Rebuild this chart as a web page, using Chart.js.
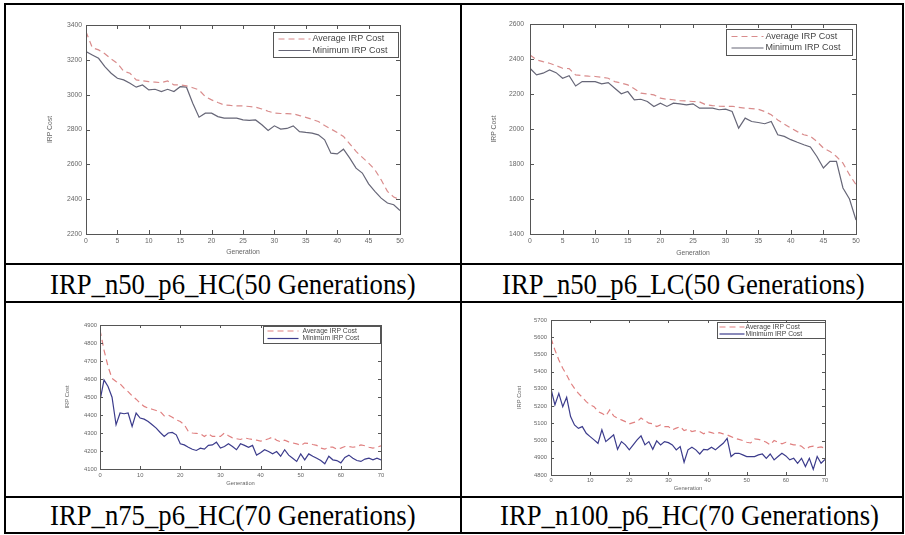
<!DOCTYPE html>
<html><head><meta charset="utf-8">
<script src="https://cdn.jsdelivr.net/npm/chart.js@4.4.1/dist/chart.umd.min.js"></script>
<style>
html,body{margin:0;padding:0;background:#fff;}
#wrap{position:relative;width:905px;height:535px;overflow:hidden;background:#fff;}
.ln{position:absolute;background:#000;}
.cv{position:absolute;}
.cap{position:absolute;font-family:"Liberation Serif","Times New Roman",serif;font-size:30px;color:#000;white-space:nowrap;line-height:1;transform:scaleX(0.89);transform-origin:0 0;}
</style></head>
<body><div id="wrap">
<div class="cv" style="left:7px;top:6px;width:452px;height:257px"><canvas id="c1"></canvas></div>
<div class="cv" style="left:463px;top:6px;width:439px;height:257px"><canvas id="c2"></canvas></div>
<div class="cv" style="left:7px;top:304px;width:452px;height:191px"><canvas id="c3"></canvas></div>
<div class="cv" style="left:463px;top:304px;width:439px;height:191px"><canvas id="c4"></canvas></div>
<div class="cap" id="t1" style="left:50px;top:269px"></div>
<div class="cap" id="t2" style="left:502px;top:269px"></div>
<div class="cap" id="t3" style="left:50px;top:500px"></div>
<div class="cap" id="t4" style="left:500px;top:500px"></div>
<div class="ln" style="left:4px;top:3px;width:900px;height:2px"></div>
<div class="ln" style="left:4px;top:532px;width:900px;height:2px"></div>
<div class="ln" style="left:4px;top:3px;width:2px;height:531px"></div>
<div class="ln" style="left:902px;top:3px;width:2px;height:531px"></div>
<div class="ln" style="left:460px;top:3px;width:2px;height:531px"></div>
<div class="ln" style="left:4px;top:263px;width:900px;height:2px"></div>
<div class="ln" style="left:4px;top:301px;width:900px;height:2px"></div>
<div class="ln" style="left:4px;top:496px;width:900px;height:2px"></div>
</div>
<script>
// ---------------- DATA ----------------
const captions = ["IRP_n50_p6_HC(50 Generations)","IRP_n50_p6_LC(50 Generations)","IRP_n75_p6_HC(70 Generations)","IRP_n100_p6_HC(70 Generations)"];
const seriesNames = ["Average IRP Cost","Minimum IRP Cost"];
const xTitle = "Generation";
const yTitle = "IRP Cost";

const gens50 = [0,1,2,3,4,5,6,7,8,9,10,11,12,13,14,15,16,17,18,19,20,21,22,23,24,25,26,27,28,29,30,31,32,33,34,35,36,37,38,39,40,41,42,43,44,45,46,47,48,49,50];
const gens70 = [0,1,2,3,4,5,6,7,8,9,10,11,12,13,14,15,16,17,18,19,20,21,22,23,24,25,26,27,28,29,30,31,32,33,34,35,36,37,38,39,40,41,42,43,44,45,46,47,48,49,50,51,52,53,54,55,56,57,58,59,60,61,62,63,64,65,66,67,68,69,70];

const xTicks50 = [0,5,10,15,20,25,30,35,40,45,50];
const xTicks70 = [0,10,20,30,40,50,60,70];
const yTicks1 = [2200,2400,2600,2800,3000,3200,3400];
const yTicks2 = [1400,1600,1800,2000,2200,2400,2600];
const yTicks3 = [4100,4200,4300,4400,4500,4600,4700,4800,4900];
const yTicks4 = [4800,4900,5000,5100,5200,5300,5400,5500,5600,5700];

const avg1 = [3362,3270,3257,3235,3205,3180,3135,3123,3085,3080,3075,3072,3069,3079,3056,3056,3050,3040,3027,2989,2970,2955,2941,2938,2936,2935,2932,2928,2918,2905,2894,2892,2891,2890,2880,2870,2858,2846,2823,2803,2783,2760,2718,2674,2640,2607,2569,2511,2445,2412,2397];
const min1 = [3247,3228,3209,3161,3123,3094,3085,3066,3043,3056,3027,3031,3018,3031,3018,3046,3043,2951,2871,2894,2894,2874,2865,2865,2865,2855,2852,2855,2827,2794,2821,2802,2806,2821,2788,2783,2779,2769,2741,2664,2660,2687,2636,2578,2550,2488,2445,2406,2378,2368,2335];

const avg2 = [2423,2395,2385,2376,2362,2347,2345,2309,2305,2302,2300,2295,2290,2271,2262,2252,2230,2205,2200,2195,2176,2170,2167,2162,2160,2157,2155,2138,2134,2131,2129,2130,2124,2119,2116,2113,2100,2081,2052,2028,2005,1985,1967,1958,1929,1891,1872,1843,1805,1739,1682];
const min2 = [2347,2309,2319,2338,2322,2290,2304,2246,2271,2271,2271,2258,2265,2233,2201,2214,2167,2170,2157,2129,2148,2129,2148,2144,2138,2144,2119,2119,2119,2110,2113,2100,2005,2062,2043,2037,2030,2043,1967,1958,1939,1924,1910,1897,1843,1777,1815,1815,1663,1600,1480];

const avg3 = [4872,4761,4669,4604,4586,4573,4549,4530,4506,4488,4466,4448,4438,4432,4425,4419,4395,4400,4388,4373,4364,4346,4309,4300,4298,4296,4281,4296,4281,4281,4281,4300,4285,4273,4268,4264,4273,4268,4264,4260,4255,4260,4268,4277,4260,4251,4260,4251,4245,4240,4231,4244,4242,4236,4231,4216,4210,4221,4221,4210,4216,4225,4225,4221,4225,4234,4229,4221,4216,4221,4229];
const min3 = [4480,4595,4558,4499,4346,4411,4407,4411,4337,4411,4383,4377,4364,4346,4327,4303,4281,4300,4303,4290,4240,4234,4221,4210,4203,4216,4210,4231,4234,4249,4216,4225,4240,4225,4207,4240,4231,4221,4231,4177,4190,4207,4197,4184,4197,4171,4207,4177,4160,4142,4184,4151,4184,4171,4160,4147,4129,4171,4151,4147,4134,4164,4177,4160,4147,4142,4155,4160,4151,4160,4151];

const avg4 = [5594,5526,5468,5420,5381,5336,5303,5274,5251,5226,5207,5197,5168,5158,5143,5178,5143,5129,5120,5110,5097,5104,5110,5131,5116,5101,5097,5081,5091,5081,5081,5062,5072,5081,5058,5066,5052,5058,5052,5039,5052,5046,5039,5046,5039,5033,5023,5013,5007,5000,4990,4986,5010,5007,5000,4990,4975,5000,4990,4981,4990,4981,4975,4975,4967,4948,4963,4967,4959,4963,4955];
const min4 = [5300,5207,5274,5197,5251,5139,5091,5071,5081,5042,5023,5004,4984,5062,4994,5013,5033,4949,4994,4975,4946,4975,5004,5027,4975,4994,4949,4998,4975,4994,4988,4975,4946,4965,4874,4946,4961,4946,4922,4949,4946,4961,4946,4965,4984,5013,4907,4926,4926,4917,4907,4907,4907,4917,4922,4897,4922,4888,4907,4926,4911,4888,4897,4868,4897,4849,4897,4833,4907,4868,4891];

// ---------------- LAYOUT / STYLE ----------------
const panels = [
  {id:'c1', cap:'t1', box:[7,6,452,257], plot:[86,25,400,234], x:gens50, xt:xTicks50, yt:yTicks1, a:avg1, m:min1,
   yW:45, xH:25, fs:6.8, yPad:4, yTitlePad:5, xPad:3, xTitlePad:3, tick:4,
   leg:{r:2,t:7,w:125,h:25,sx:5,sl:32,tx:39,fs:9,r1:6.5,r2:18}, minColor:'#666677', avgColor:'#d98c8c'},
  {id:'c2', cap:'t2', box:[463,6,439,257], plot:[530,24,856,234], x:gens50, xt:xTicks50, yt:yTicks2, a:avg2, m:min2,
   yW:45, xH:25, fs:6.8, yPad:6, yTitlePad:5, xPad:3, xTitlePad:2, tick:4,
   leg:{r:4,t:5,w:126,h:26,sx:5,sl:32,tx:39,fs:9,r1:7,r2:18.5}, minColor:'#666677', avgColor:'#d98c8c'},
  {id:'c3', cap:'t3', box:[7,304,452,191], plot:[100,325,381,469], x:gens70, xt:xTicks70, yt:yTicks3, a:avg3, m:min3,
   yW:45, xH:20, fs:5.8, yPad:3, yTitlePad:9, xPad:3, xTitlePad:2, tick:3,
   leg:{r:1,t:1,w:117,h:17,sx:4,sl:31,tx:39,fs:6.8,r1:4.5,r2:12}, minColor:'#3c3c8c', avgColor:'#e08080'},
  {id:'c4', cap:'t4', box:[463,304,439,191], plot:[551,320,825,475], x:gens70, xt:xTicks70, yt:yTicks4, a:avg4, m:min4,
   yW:45, xH:18, fs:5.8, yPad:4, yTitlePad:10, xPad:2, xTitlePad:1, tick:3,
   leg:{r:0,t:2,w:108,h:16,sx:2,sl:25,tx:28,fs:6.8,r1:4.5,r2:11.5}, minColor:'#3c3c8c', avgColor:'#e08080'}
];

const framePlugin = {
  id:'frame',
  afterDraw(chart, args, opts){
    const {ctx, chartArea:a, scales} = chart;
    ctx.save();
    ctx.strokeStyle = '#555'; ctx.lineWidth = 1;
    ctx.strokeRect(Math.round(a.left)+0.5, Math.round(a.top)+0.5, Math.round(a.right-a.left), Math.round(a.bottom-a.top));
    const L = opts.tick;
    ctx.beginPath();
    scales.x.ticks.forEach(t=>{
      const px = Math.round(scales.x.getPixelForValue(t.value))+0.5;
      ctx.moveTo(px,a.bottom); ctx.lineTo(px,a.bottom-L);
      ctx.moveTo(px,a.top); ctx.lineTo(px,a.top+L);
    });
    scales.y.ticks.forEach(t=>{
      const py = Math.round(scales.y.getPixelForValue(t.value))+0.5;
      ctx.moveTo(a.left,py); ctx.lineTo(a.left+L,py);
      ctx.moveTo(a.right,py); ctx.lineTo(a.right-L,py);
    });
    ctx.stroke();
    // legend inside plot area
    const g = opts.leg;
    const x0 = Math.round(a.right - g.r - g.w)+0.5, y0 = Math.round(a.top + g.t)+0.5;
    ctx.fillStyle = '#fff';
    ctx.fillRect(x0, y0, g.w, g.h);
    ctx.strokeStyle = '#555';
    ctx.strokeRect(x0, y0, g.w, g.h);
    ctx.font = g.fs + 'px "Liberation Sans", Arial, sans-serif';
    ctx.textBaseline = 'middle'; ctx.textAlign = 'left';
    chart.data.datasets.forEach((ds,i)=>{
      const yy = y0 + (i===0 ? g.r1 : g.r2);
      ctx.strokeStyle = ds.borderColor; ctx.lineWidth = 1.2;
      ctx.setLineDash(ds.borderDash || []);
      ctx.beginPath(); ctx.moveTo(x0+g.sx, yy); ctx.lineTo(x0+g.sx+g.sl, yy); ctx.stroke();
      ctx.setLineDash([]);
      ctx.fillStyle = '#444';
      ctx.fillText(ds.label, x0+g.tx, yy);
    });
    ctx.restore();
  }
};

panels.forEach((p,idx)=>{
  document.getElementById(p.cap).textContent = captions[idx];
  const [bx,by,bw,bh] = p.box;
  const [pl,pt,pr,pb] = p.plot;
  const pad = {left: pl-bx-p.yW, top: pt-by, right: bx+bw-pr, bottom: by+bh-pb-p.xH};
  const font = {family:'"Liberation Sans", Arial, sans-serif', size:p.fs};
  new Chart(document.getElementById(p.id), {
    type:'line',
    data:{
      labels:p.x,
      datasets:[
        {label:seriesNames[0], data:p.a, borderColor:p.avgColor, borderWidth:1.2, borderDash:[6,4], pointRadius:0, tension:0, fill:false},
        {label:seriesNames[1], data:p.m, borderColor:p.minColor, borderWidth:1.2, pointRadius:0, tension:0, fill:false}
      ]
    },
    options:{
      responsive:true, maintainAspectRatio:false, animation:false,
      layout:{padding:pad},
      plugins:{legend:{display:false}, tooltip:{enabled:false},
        frame:{tick:p.tick, leg:p.leg}},
      scales:{
        x:{type:'linear', min:p.xt[0], max:p.xt[p.xt.length-1],
           afterBuildTicks:(s)=>{ s.ticks = p.xt.map(v=>({value:v})); },
           afterFit:(s)=>{ s.height = p.xH; },
           grid:{display:false, drawTicks:false}, border:{display:false},
           ticks:{font, color:'#666', padding:p.xPad, maxRotation:0, autoSkip:false, callback:(v)=>String(v)},
           title:{display:true, text:xTitle, font, color:'#666', padding:{top:0,bottom:p.xTitlePad}}},
        y:{type:'linear', min:p.yt[0], max:p.yt[p.yt.length-1],
           afterBuildTicks:(s)=>{ s.ticks = p.yt.map(v=>({value:v})); },
           afterFit:(s)=>{ s.width = p.yW; },
           grid:{display:false, drawTicks:false}, border:{display:false},
           ticks:{font, color:'#666', padding:p.yPad, autoSkip:false, callback:(v)=>String(v)},
           title:{display:true, text:yTitle, font, color:'#666', padding:{top:p.yTitlePad,bottom:0}}}
      }
    },
    plugins:[framePlugin]
  });
});
</script>
</body></html>
